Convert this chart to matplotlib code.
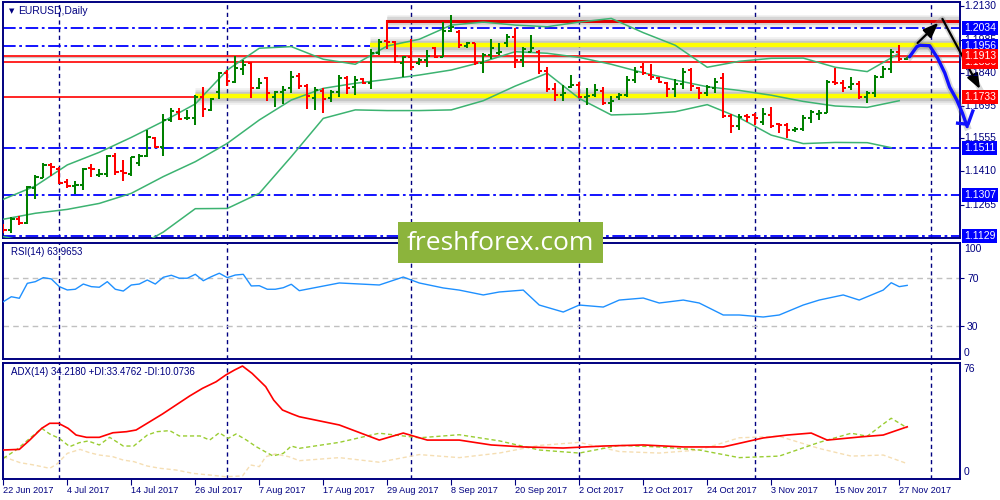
import matplotlib
matplotlib.use("Agg")
import matplotlib.pyplot as plt
from matplotlib.collections import LineCollection
from matplotlib.patches import Rectangle

plt.rcParams['font.family'] = ['Liberation Sans', 'DejaVu Sans']

# ---------------- data (EURUSD daily) ----------------
date_labels = ['22 Jun 2017', '4 Jul 2017', '14 Jul 2017', '26 Jul 2017', '7 Aug 2017',
               '17 Aug 2017', '29 Aug 2017', '8 Sep 2017', '20 Sep 2017', '2 Oct 2017',
               '12 Oct 2017', '24 Oct 2017', '3 Nov 2017', '15 Nov 2017', '27 Nov 2017']
label_bars = [0, 8, 16, 24, 32, 40, 48, 56, 64, 72, 80, 88, 96, 104, 112]
month_starts = [7, 28, 51, 72, 94, 116]   # period separators (first bar of month)

opens = [1.1176, 1.1154, 1.1201, 1.1186, 1.1336, 1.1379, 1.1438, 1.1419, 1.1362, 1.1346,
         1.1350, 1.1423, 1.1396, 1.1397, 1.1477, 1.1413, 1.1397, 1.1445, 1.1478, 1.1555,
         1.1515, 1.1634, 1.1667, 1.1641, 1.1641, 1.1733, 1.1678, 1.1758, 1.1840, 1.1801,
         1.1855, 1.1881, 1.1772, 1.1816, 1.1733, 1.1758, 1.1772, 1.1826, 1.1782, 1.1728,
         1.1762, 1.1728, 1.1758, 1.1816, 1.1776, 1.1811, 1.1797, 1.1928, 1.1980, 1.1973,
         1.1881, 1.1910, 1.1881, 1.1896, 1.1947, 1.1910, 1.2024, 1.2019, 1.1957, 1.1968,
         1.1884, 1.1918, 1.1928, 1.1968, 1.1998, 1.1896, 1.1932, 1.1932, 1.1849, 1.1768,
         1.1743, 1.1779, 1.1787, 1.1733, 1.1743, 1.1762, 1.1707, 1.1733, 1.1743, 1.1808,
         1.1867, 1.1830, 1.1816, 1.1797, 1.1768, 1.1791, 1.1852, 1.1772, 1.1750, 1.1772,
         1.1816, 1.1651, 1.1608, 1.1651, 1.1656, 1.1627, 1.1656, 1.1616, 1.1612, 1.1590,
         1.1593, 1.1641, 1.1660, 1.1666, 1.1801, 1.1797, 1.1776, 1.1791, 1.1733, 1.1750,
         1.1823, 1.1855, 1.1932, 1.1899]
highs = [1.1179, 1.1209, 1.1217, 1.1346, 1.1394, 1.1445, 1.1445, 1.1427, 1.1375, 1.1369,
         1.1424, 1.1442, 1.1419, 1.1480, 1.1489, 1.1459, 1.1474, 1.1486, 1.1590, 1.1558,
         1.1660, 1.1685, 1.1685, 1.1678, 1.1743, 1.1776, 1.1728, 1.1845, 1.1852, 1.1915,
         1.1896, 1.1888, 1.1816, 1.1823, 1.1762, 1.1782, 1.1848, 1.1838, 1.1791, 1.1779,
         1.1772, 1.1765, 1.1830, 1.1826, 1.1826, 1.1816, 1.1942, 1.1986, 1.2067, 1.1980,
         1.1913, 1.1986, 1.1903, 1.1939, 1.1954, 1.2063, 1.2092, 1.2027, 1.1976, 1.1971,
         1.1925, 1.1986, 1.1968, 1.2009, 1.2034, 1.1954, 1.2005, 1.1939, 1.1864, 1.1797,
         1.1787, 1.1830, 1.1801, 1.1772, 1.1791, 1.1779, 1.1739, 1.1753, 1.1826, 1.1867,
         1.1884, 1.1878, 1.1823, 1.1801, 1.1811, 1.1859, 1.1859, 1.1776, 1.1787, 1.1816,
         1.1840, 1.1660, 1.1660, 1.1660, 1.1663, 1.1685, 1.1689, 1.1622, 1.1619, 1.1602,
         1.1656, 1.1678, 1.1678, 1.1808, 1.1859, 1.1808, 1.1823, 1.1805, 1.1762, 1.1830,
         1.1869, 1.1942, 1.1961, 1.1910]
lows = [1.1142, 1.1142, 1.1176, 1.1179, 1.1291, 1.1379, 1.1391, 1.1355, 1.1336, 1.1311,
        1.1328, 1.1384, 1.1387, 1.1387, 1.1394, 1.1369, 1.1391, 1.1433, 1.1471, 1.1512,
        1.1478, 1.1625, 1.1634, 1.1634, 1.1612, 1.1648, 1.1673, 1.1724, 1.1782, 1.1794,
        1.1830, 1.1728, 1.1770, 1.1718, 1.1689, 1.1702, 1.1750, 1.1768, 1.1683, 1.1678,
        1.1663, 1.1714, 1.1733, 1.1747, 1.1743, 1.1791, 1.1771, 1.1918, 1.1942, 1.1881,
        1.1820, 1.1852, 1.1874, 1.1867, 1.1903, 1.1908, 1.2019, 1.1947, 1.1947, 1.1874,
        1.1838, 1.1899, 1.1918, 1.1951, 1.1859, 1.1867, 1.1930, 1.1835, 1.1758, 1.1718,
        1.1718, 1.1772, 1.1728, 1.1699, 1.1733, 1.1699, 1.1670, 1.1721, 1.1733, 1.1797,
        1.1830, 1.1808, 1.1794, 1.1733, 1.1733, 1.1768, 1.1762, 1.1724, 1.1739, 1.1750,
        1.1641, 1.1576, 1.1590, 1.1627, 1.1612, 1.1612, 1.1597, 1.1576, 1.1554, 1.1583,
        1.1587, 1.1622, 1.1634, 1.1663, 1.1787, 1.1758, 1.1765, 1.1724, 1.1710, 1.1733,
        1.1816, 1.1838, 1.1893, 1.1896]
closes = [1.1154, 1.1201, 1.1186, 1.1343, 1.1387, 1.1438, 1.1430, 1.1361, 1.1346, 1.1350,
          1.1419, 1.1419, 1.1398, 1.1477, 1.1407, 1.1401, 1.1471, 1.1478, 1.1558, 1.1515,
          1.1634, 1.1673, 1.1637, 1.1643, 1.1733, 1.1682, 1.1724, 1.1838, 1.1805, 1.1859,
          1.1874, 1.1772, 1.1797, 1.1753, 1.1758, 1.1765, 1.1823, 1.1782, 1.1739, 1.1765,
          1.1724, 1.1758, 1.1816, 1.1772, 1.1808, 1.1797, 1.1928, 1.1976, 1.1973, 1.1913,
          1.1910, 1.1864, 1.1896, 1.1913, 1.1910, 1.2024, 1.2041, 1.1961, 1.1968, 1.1881,
          1.1918, 1.1947, 1.1932, 1.1998, 1.1896, 1.1942, 1.1947, 1.1849, 1.1768, 1.1743,
          1.1753, 1.1787, 1.1736, 1.1739, 1.1765, 1.1707, 1.1718, 1.1743, 1.1808, 1.1845,
          1.1838, 1.1823, 1.1801, 1.1768, 1.1791, 1.1845, 1.1782, 1.1750, 1.1776, 1.1801,
          1.1651, 1.1608, 1.1646, 1.1646, 1.1641, 1.1660, 1.1608, 1.1612, 1.1590, 1.1593,
          1.1641, 1.1670, 1.1666, 1.1801, 1.1797, 1.1772, 1.1791, 1.1733, 1.1750, 1.1823,
          1.1855, 1.1932, 1.1899, 1.1907]

# Bollinger bands (20,2) sampled every 4 bars
band_bars = list(range(0, 113, 4))
bb_upper = [1.1288, 1.1346, 1.1438, 1.1493, 1.1558, 1.1628, 1.1704, 1.1852, 1.1947, 1.1954,
            1.1899, 1.1877, 1.1957, 1.1986, 1.2048, 1.2061, 1.2048, 1.2041, 1.2061, 1.2077,
            1.2015, 1.1960, 1.1864, 1.1890, 1.1903, 1.1904, 1.1864, 1.1845, 1.1925]
bb_middle = [1.1201, 1.1227, 1.1244, 1.1270, 1.1314, 1.1387, 1.1452, 1.1532, 1.1634, 1.1721,
             1.1772, 1.1794, 1.1811, 1.1830, 1.1852, 1.1888, 1.1932, 1.1925, 1.1907, 1.1877,
             1.1840, 1.1808, 1.1779, 1.1763, 1.1742, 1.1715, 1.1695, 1.1689, 1.1718]
lower_bars = list(range(0, 109, 4)) + [111]
bb_lower = [1.1125, 1.1096, 1.1052, 1.1009, 1.1067, 1.1145, 1.1247, 1.1248, 1.1314, 1.1474,
            1.1641, 1.1678, 1.1675, 1.1675, 1.1678, 1.1718, 1.1782, 1.1838, 1.1728, 1.1656,
            1.1660, 1.1670, 1.1701, 1.1644, 1.1568, 1.1531, 1.1536, 1.1535, 1.1513]

# RSI(14)
rsi_bars = list(range(38)) + [42, 47, 50, 52, 55, 57, 60, 62, 65, 67, 70, 72, 75, 77, 80,
                              82, 85, 87, 90, 92, 95, 97, 100, 102, 105, 107, 110, 111, 112, 113]
rsi = [50.2, 54.4, 53.1, 65.7, 67.1, 70.5, 69.4, 62.9, 60.1, 60.7, 65.1, 62.9, 62.4, 67.1,
       60.7, 59.2, 64.3, 65.1, 68.5, 65.1, 70.8, 72.5, 70.0, 70.0, 73.3, 67.9, 71.3, 74.2,
       70.5, 72.7, 73.3, 63.5, 63.7, 60.7, 60.7, 62.0, 64.9, 59.5,
       66.0, 64.3, 71.0, 66.0, 61.8, 60.0, 55.9, 58.4, 60.0, 47.4, 41.5, 47.4, 45.7, 51.6,
       53.3, 49.1, 51.6, 49.1, 39.0, 39.0, 37.3, 39.0, 47.4, 51.6, 55.9, 51.6, 60.0, 66.2,
       62.9, 63.97]

# ADX(14), +DI, -DI
adx_bars = [0, 2, 3.3, 4.8, 5.8, 6.9, 8.1, 9.1, 10.4, 12, 13.7, 15.4, 16.6, 18.3, 19.9, 21.6,
            23.3, 24.9, 26.6, 27.8, 28.9, 29.9, 31.1, 32.8, 33.8, 34.9, 36.1, 37, 42, 47, 50,
            53, 57, 61, 65, 70, 75, 80, 85, 90, 95, 98, 101, 103, 107, 110, 113]
adx = [19.0, 19.4, 25.5, 33.2, 36.5, 36.5, 33.2, 28.8, 27.3, 27.3, 30.3, 31.0, 32.1, 37.5,
       42.6, 48.5, 54.4, 59.4, 63.7, 68.1, 71.4, 74.0, 69.2, 60.5, 51.7, 45.2, 42.6, 40.8,
       35.4, 25.5, 30.1, 25.5, 25.5, 22.3, 21.0, 20.3, 21.6, 22.3, 21.0, 21.0, 26.9, 28.8,
       30.1, 25.5, 27.5, 28.8, 34.2]
pdi_bars = [0, 1.7, 3.3, 4.8, 5.8, 7, 8.3, 9.5, 10.6, 12, 13.3, 15, 16.3, 18, 19.2, 20.8,
            22, 24.6, 25.8, 27, 28.1, 29.1, 30.4, 31.6, 33.7, 35, 36, 37, 42, 47, 52, 57, 62,
            67, 72, 77, 82, 87, 92, 97, 102, 106, 108, 110, 111, 113]
pdi = [13.5, 19.4, 26.6, 33.2, 29.5, 26.6, 21.2, 23.8, 24.9, 22.3, 27.3, 21.6, 21.6, 28.8,
       31.0, 31.7, 28.2, 28.2, 25.5, 30.3, 26.6, 29.5, 25.5, 21.2, 15.1, 16.8, 21.6, 20.1,
       24.0, 30.0, 27.0, 29.0, 25.0, 19.0, 17.0, 22.0, 21.0, 19.0, 14.0, 15.0, 24.0, 30.0,
       28.0, 36.0, 39.8, 33.5]
mdi_bars = [0, 2.1, 3.8, 5.8, 6.7, 8.0, 9.6, 10.8, 12, 13.7, 15, 16.3, 18, 19.6, 21.6, 23.7,
            25.8, 27.8, 29.9, 30.9, 32, 32.8, 34, 35.7, 37, 42, 47, 52, 57, 62, 67, 72, 77,
            82, 87, 92, 97, 102, 106, 110, 113]
mdi = [14.6, 10.7, 9.2, 7.0, 9.8, 16.8, 19.4, 17.2, 15.7, 14.6, 12.4, 11.4, 8.5, 7.0, 5.9,
       3.7, 2.6, 1.5, 2.0, 9.2, 8.1, 14.6, 16.4, 14.6, 12.0, 14.0, 11.0, 16.0, 14.0, 17.0,
       22.0, 24.0, 18.0, 17.0, 19.0, 27.0, 28.0, 20.0, 15.0, 15.7, 10.07]

blue_levels = [1.2034, 1.1956, 1.1511, 1.1307, 1.1129]
red_levels = [1.1886, 1.1913, 1.1733]
price_ticks = [1.2130, 1.1985, 1.1840, 1.1695, 1.1555, 1.1410, 1.1265]
yellow_zones = [(24, 1.1737), (45.8, 1.1960)]      # (start bar, price)
resistance = (48, 1.2067, 1.1956)                   # start bar, top, bottom
black_path = [(114.3, 1.1970), (117.4, 1.2075), (122.1, 1.1769)]
blue_path = [(113.3, 1.1910), (114.2, 1.1954), (114.6, 1.1960), (115.8, 1.1958),
             (116.8, 1.1904), (117.7, 1.1839), (118.3, 1.1778), (119.2, 1.1721),
             (119.9, 1.1664), (120.5, 1.1605)]
blue_head = [(119.3, 1.1620), (120.6, 1.1615), (121.2, 1.1673)]

# ---------------- figure ----------------
W, H = 1000, 500
NAVY = '#000080'
fig = plt.figure(figsize=(W / 100, H / 100), dpi=100)
fig.patch.set_facecolor('white')
XLIM = (-0.04, 119.6)


def panel(top, bottom):
    ax = fig.add_axes([3 / W, 1 - bottom / H, 957 / W, (bottom - top) / H])
    ax.set_xlim(*XLIM)
    ax.set_facecolor('white')
    for s in ax.spines.values():
        s.set_color(NAVY)
        s.set_linewidth(1.4)
    ax.set_xticks([])
    ax.yaxis.tick_right()
    ax.tick_params(axis='y', colors=NAVY, length=3, width=0.8, pad=2, labelsize=7.5)
    for m in month_starts:
        ax.axvline(m, color=NAVY, lw=1.0, ls=(0, (3, 2.5)), zorder=1)
    return ax


ax = panel(2, 238)
ax.set_ylim(1.11191, 1.21487)
ax.set_yticks(price_ticks)
ax.set_yticklabels([])
for t in price_ticks:
    ax.text(1.004, t, f'{t:.4f}', transform=ax.get_yaxis_transform(), va='center',
            ha='left', color=NAVY, fontsize=7.5, zorder=8, clip_on=False)

# horizontal levels
for lv in blue_levels:
    ax.axhline(lv, color='#0000ff', lw=1.3, ls=(0, (7, 2, 1.5, 2)), zorder=2)
for lv in red_levels:
    ax.axhline(lv, color='#ff0000', lw=1.2, zorder=2)
ax.axhline(closes[-1], color='#c8c8c8', lw=1.0, zorder=1.5)

for start, lv in yellow_zones:
    for w, a in [(12, 0.10), (9, 0.15), (6.5, 0.2)]:
        ax.plot([start, XLIM[1]], [lv, lv], color='#707070', lw=w, alpha=a,
                solid_capstyle='butt', zorder=2.2)
    ax.plot([start, XLIM[1]], [lv, lv], color='#ffff00', lw=3.2,
            solid_capstyle='butt', zorder=2.4)

rb, rtop, rbot = resistance
for w, a in [(9, 0.12), (6, 0.18)]:
    ax.plot([rb, XLIM[1]], [rtop - 0.0003, rtop - 0.0003], color='#707070', lw=w, alpha=a,
            solid_capstyle='butt', zorder=2.2)
ax.plot([rb, XLIM[1]], [rtop, rtop], color='#e00000', lw=2.2, zorder=2.5)
ax.plot([rb, rb], [rtop, rbot], color='#ff0000', lw=1.2, zorder=2.5)

# Bollinger bands
for xs, ys in [(band_bars, bb_upper), (band_bars, bb_middle), (lower_bars, bb_lower)]:
    ax.plot(xs, ys, color='#3cb371', lw=1.1, zorder=3)

# OHLC bars
segs, cols = [], []
tk = 0.4
for i, (o, h, l, c) in enumerate(zip(opens, highs, lows, closes)):
    col = '#008000' if c >= o else '#ff0000'
    segs += [[(i, l), (i, h)], [(i - tk, o), (i, o)], [(i, c), (i + tk, c)]]
    cols += [col] * 3
ax.add_collection(LineCollection(segs, colors=cols, linewidths=1.45, zorder=4,
                                 capstyle='butt'))

# forecast arrows
bx, by = zip(*black_path)
ax.plot(bx, by, color='#909090', lw=4, alpha=0.35, clip_on=False, zorder=5)
ax.annotate('', xy=black_path[1], xytext=black_path[0], annotation_clip=False,
            arrowprops=dict(arrowstyle='-|>,head_length=0.9,head_width=0.35', color='black',
                            lw=1.6, shrinkA=0, shrinkB=4), zorder=6)
ax.annotate('', xy=black_path[2], xytext=black_path[1], annotation_clip=False,
            arrowprops=dict(arrowstyle='-|>,head_length=0.9,head_width=0.35', color='black',
                            lw=1.6, shrinkA=0, shrinkB=0), zorder=6)
ux, uy = zip(*blue_path)
ax.plot(ux, uy, color='#808080', lw=5, alpha=0.3, clip_on=False, zorder=5)
ax.plot(ux, uy, color='#1010ff', lw=2.4, clip_on=False, zorder=6, solid_capstyle='round')
hx, hy = zip(*blue_head)
ax.plot(hx, hy, color='#1010ff', lw=2.4, clip_on=False, zorder=6)

# right-hand price boxes
for lv in blue_levels:
    ax.text(1.004, lv, f'{lv:.4f}', transform=ax.get_yaxis_transform(), va='center',
            ha='left', color='white', fontsize=7.5, zorder=10,
            bbox=dict(boxstyle='square,pad=0.18', fc='#0000ff', ec='none'))
for lv in red_levels:
    ax.text(1.004, lv, f'{lv:.4f}', transform=ax.get_yaxis_transform(), va='center',
            ha='left', color='white', fontsize=7.5, zorder=10,
            bbox=dict(boxstyle='square,pad=0.18', fc='#ff0000', ec='none'))

ax.text(0.016, 0.962, 'EURUSD,Daily', transform=ax.transAxes, color=NAVY, fontsize=7.5,
        va='center', ha='left')
ax.text(0.006, 0.962, '\u25bc', transform=ax.transAxes, color=NAVY, fontsize=5,
        va='center', ha='left', family='DejaVu Sans')

# RSI panel
ax2 = panel(243, 359)
ax2.set_ylim(1.9, 99.7)
for lv in (70, 30):
    ax2.axhline(lv, color='#c0c0c0', lw=1.0, ls=(0, (4, 3)), zorder=1)
ax2.plot(rsi_bars, rsi, color='#1e90ff', lw=1.0, zorder=3)
ax2.set_yticks([70, 30])
ax2.set_yticklabels(['70', '30'])
ax2.text(1.004, 0.945, '100', transform=ax2.transAxes, color=NAVY, fontsize=7.5, va='center')
ax2.text(1.004, 0.05, '0', transform=ax2.transAxes, color=NAVY, fontsize=7.5, va='center')
ax2.text(0.008, 0.925, 'RSI(14) 63.9653', transform=ax2.transAxes, color=NAVY, fontsize=7,
         va='center')

# ADX panel
ax3 = panel(363, 479)
ax3.set_ylim(0, 76)
ax3.plot(mdi_bars, mdi, color='#f5deb3', lw=1.0, ls=(0, (3, 2)), zorder=2)
ax3.plot(pdi_bars, pdi, color='#9acd32', lw=1.0, ls=(0, (3, 2)), zorder=2)
ax3.plot(adx_bars, adx, color='#ff0000', lw=1.2, zorder=3)
ax3.set_yticks([])
ax3.text(1.004, 0.95, '76', transform=ax3.transAxes, color=NAVY, fontsize=7.5, va='center')
ax3.text(1.004, 0.06, '0', transform=ax3.transAxes, color=NAVY, fontsize=7.5, va='center')
ax3.text(0.008, 0.925, 'ADX(14) 34.2180 +DI:33.4762 -DI:10.0736', transform=ax3.transAxes,
         color=NAVY, fontsize=7, va='center')
ax3.set_xticks(label_bars)
ax3.set_xticklabels(date_labels)
ax3.tick_params(axis='x', colors=NAVY, length=4, width=0.8, pad=1, labelsize=6.6)
for t in ax3.get_xticklabels():
    t.set_horizontalalignment('left')

# watermark
fig.patches.append(Rectangle((398 / W, 1 - 263 / H), 205 / W, 41 / H, transform=fig.transFigure,
                             fc='#8cb43c', ec='none', zorder=20))
fig.text(500 / W, 1 - 243 / H, 'freshforex.com', color='white', fontsize=19,
         family=['Open Sans', 'DejaVu Sans'], ha='center', va='center', zorder=21)

fig.savefig('out.png', dpi=100, facecolor='white')
